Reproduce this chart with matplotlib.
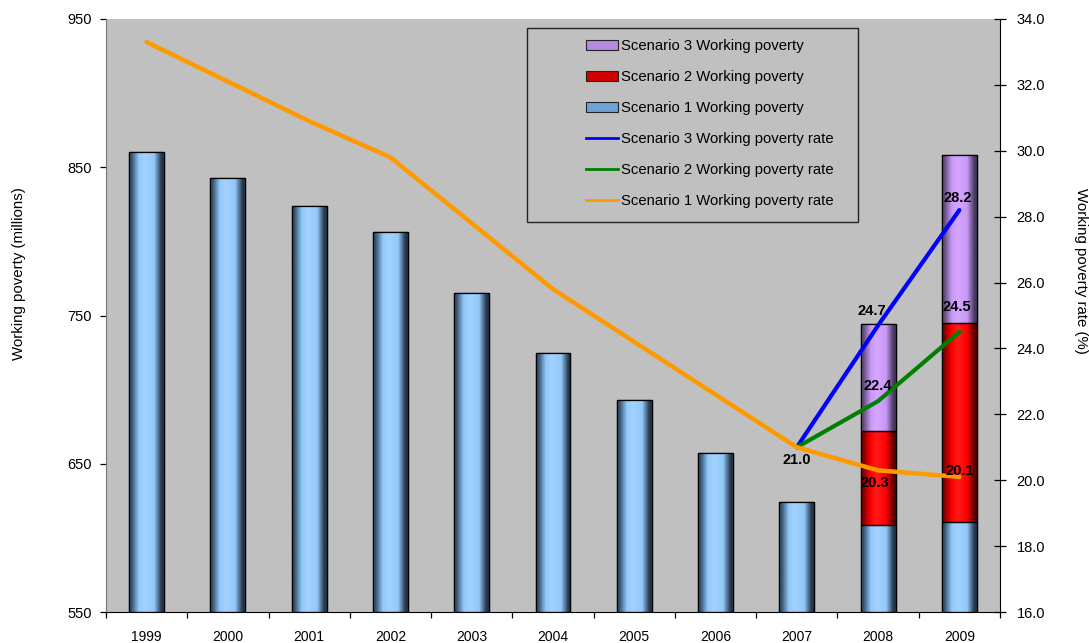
import numpy as np
import matplotlib
matplotlib.use("Agg")
import matplotlib.pyplot as plt
from matplotlib.colors import LinearSegmentedColormap
from matplotlib.patches import Rectangle, Patch
from matplotlib.lines import Line2D

plt.rcParams['font.family'] = ['Liberation Sans', 'DejaVu Sans']

# ---------------- data ----------------
years = ['1999', '2000', '2001', '2002', '2003', '2004', '2005', '2006', '2007', '2008', '2009']
s1_wp = [860, 843, 824, 806, 765, 725, 693, 657, 624, 609, 611]
s2_wp_total = [np.nan] * 9 + [672, 745]
s3_wp_total = [np.nan] * 9 + [744, 858]

s1_rate = [33.3, 32.1, 30.9, 29.8, 27.8, 25.8, 24.2, 22.6, 21.0, 20.3, 20.1]
s2_rate = [np.nan] * 8 + [21.0, 22.4, 24.5]
s3_rate = [np.nan] * 8 + [21.0, 24.7, 28.2]

# ---------------- figure ----------------
fig = plt.figure(figsize=(10.89, 6.43), dpi=100)
ax = fig.add_axes([106 / 1089, 1 - 612 / 643, (1000 - 106) / 1089, (612 - 19) / 643])
ax.set_facecolor('#C0C0C0')

x = np.arange(len(years))
bw = 0.43

def gradient_cmap(dark_l, light, hi, dark_r):
    return LinearSegmentedColormap.from_list(
        'g', [(0.0, dark_l), (0.07, dark_l), (0.28, light), (0.45, hi), (0.72, light), (0.93, dark_r), (1.0, dark_r)])

cm1 = gradient_cmap('#34506C', '#92C8FA', '#A3D3FF', '#25364A')
cm2 = gradient_cmap('#800000', '#FF0000', '#FF1A1A', '#5A0000')
cm3 = gradient_cmap('#604C78', '#C898F8', '#D6A6FF', '#47385E')

s1 = np.array(s1_wp, dtype=float)
s2 = np.array(s2_wp_total, dtype=float)
s3 = np.array(s3_wp_total, dtype=float)

bars1 = ax.bar(x, s1 - 550, bottom=550, width=bw, color='#99CCFF', edgecolor='black', linewidth=0.9, zorder=2)
bars2 = ax.bar(x, s2 - s1, bottom=s1, width=bw, color='#FF0000', edgecolor='black', linewidth=0.9, zorder=2)
bars3 = ax.bar(x, s3 - s2, bottom=s2, width=bw, color='#CC99FF', edgecolor='black', linewidth=0.9, zorder=2)

grad = np.linspace(0, 1, 256).reshape(1, -1)
for bars, cm in ((bars1, cm1), (bars2, cm2), (bars3, cm3)):
    for p in bars:
        h = p.get_height()
        if not np.isfinite(h) or h <= 0:
            continue
        x0, y0, w = p.get_x(), p.get_y(), p.get_width()
        im = ax.imshow(grad, cmap=cm, extent=[x0, x0 + w, y0, y0 + h], aspect='auto',
                       interpolation='bilinear', zorder=2.1)
        im.set_clip_path(p)
        ax.add_patch(Rectangle((x0, y0), w, h, fill=False, edgecolor='black', linewidth=0.9, zorder=2.2))

ax.set_xlim(-0.5, len(years) - 0.5)
ax.set_ylim(550, 950)
ax.set_yticks([550, 650, 750, 850, 950])
ax.set_xticks(x)
ax.set_xticklabels(years)
ax.set_xticks(np.arange(-0.5, len(years), 1.0), minor=True)
ax.tick_params(axis='x', which='major', length=0, pad=13, labelsize=10)
ax.tick_params(axis='x', which='minor', length=4, direction='out', width=0.9)
ax.tick_params(axis='y', length=4, direction='out', pad=6, labelsize=10.5, width=0.9)
ax.spines['top'].set_visible(False)
ax.spines['right'].set_visible(False)
ax.spines['left'].set_color('#777777')
ax.spines['bottom'].set_color('black')
fig.text(19 / 1089, 1 - 274 / 643, 'Working poverty (millions)', fontsize=10.8,
         rotation=90, ha='center', va='center')

# ---------------- lines ----------------
ax2 = ax.twinx()
ax2.set_ylim(16, 34)
ax2.set_yticks(np.arange(16, 34.1, 2))
ax2.set_yticklabels([f'{v:.1f}' for v in np.arange(16, 34.1, 2)])
ax2.tick_params(axis='y', direction='inout', length=8, pad=8, labelsize=10.5, width=0.9)
ax2.spines['top'].set_visible(False)
ax2.spines['left'].set_visible(False)
ax2.spines['bottom'].set_visible(False)
ax2.spines['right'].set_color('black')
fig.text(1081 / 1089, 1 - 271 / 643, 'Working poverty rate (%)', fontsize=10.8,
         rotation=270, ha='center', va='center')

ax2.plot(x, s3_rate, color='#0000FF', lw=3.0, zorder=3, solid_capstyle='round')
ax2.plot(x, s2_rate, color='#008000', lw=3.0, zorder=3, solid_capstyle='round')
ax2.plot(x, s1_rate, color='#FF9900', lw=3.2, zorder=4, solid_capstyle='round', solid_joinstyle='round')

def lab(series, i, dx, dy):
    ax2.annotate(f'{series[i]:.1f}', (x[i], series[i]), xytext=(dx * 0.72, dy * 0.72),
                 textcoords='offset points', ha='center', va='center',
                 fontsize=10.5, fontweight='bold', color='black', zorder=6)

lab(s1_rate, 8, 0, -13)
lab(s1_rate, 9, -3, -13)
lab(s1_rate, 10, 0, 6)
lab(s2_rate, 9, 0, 15)
lab(s2_rate, 10, -3, 25)
lab(s3_rate, 9, -6, 14)
lab(s3_rate, 10, -2, 12)

# ---------------- legend ----------------
ax2.add_patch(Rectangle(((527 - 106) / 894, (612 - 222) / 593), (858 - 527) / 894, (222 - 28) / 593,
                        transform=ax2.transAxes, facecolor='#C0C0C0', edgecolor='#222222',
                        linewidth=1.0, zorder=7))
handles = [
    Patch(facecolor='#B58AE0', edgecolor='#222222', linewidth=0.8),
    Patch(facecolor='#D00000', edgecolor='#222222', linewidth=0.8),
    Patch(facecolor='#6FA3D6', edgecolor='#222222', linewidth=0.8),
    Line2D([], [], color='#0000FF', lw=2),
    Line2D([], [], color='#008000', lw=2),
    Line2D([], [], color='#FF9900', lw=2),
]
labels = ['Scenario 3 Working poverty', 'Scenario 2 Working poverty', 'Scenario 1 Working poverty',
          'Scenario 3 Working poverty rate', 'Scenario 2 Working poverty rate', 'Scenario 1 Working poverty rate']
leg = ax2.legend(handles, labels, loc='upper left',
                 bbox_to_anchor=((586 - 106) / 894, (612 - 39) / 593),
                 frameon=False, fontsize=10.7, borderpad=0, borderaxespad=0,
                 handlelength=2.15, handleheight=0.7, handletextpad=0.2, labelspacing=1.15)
leg.set_zorder(8)

fig.savefig('out.png', dpi=100, facecolor='white')
